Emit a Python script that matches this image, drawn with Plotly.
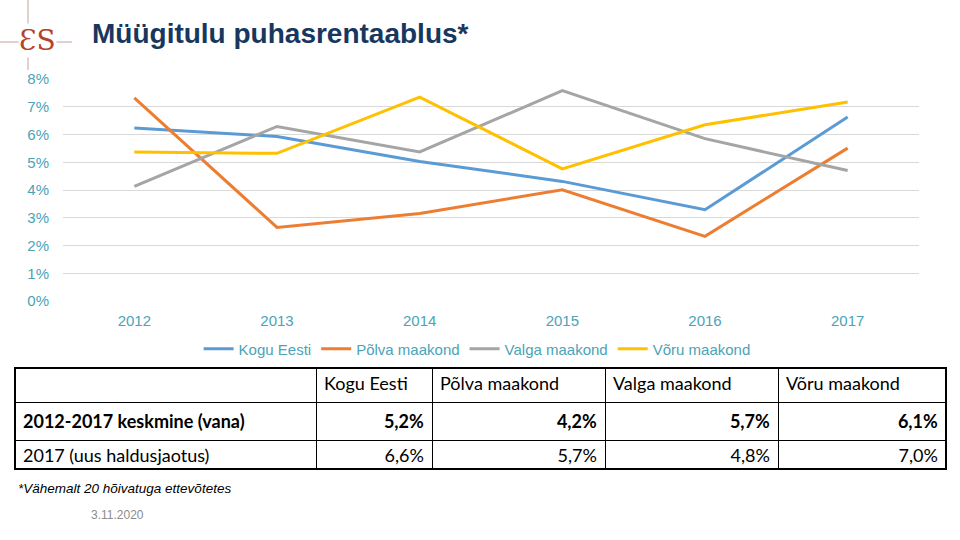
import plotly.graph_objects as go

years = ["2012", "2013", "2014", "2015", "2016", "2017"]
kogu_eesti = [6.23, 5.93, 5.03, 4.31, 3.29, 6.63]
polva = [7.32, 2.65, 3.15, 4.01, 2.33, 5.51]
valga = [4.13, 6.29, 5.37, 7.58, 5.85, 4.70]
voru = [5.37, 5.32, 7.35, 4.76, 6.35, 7.17]

series_names = ["Kogu Eesti", "Põlva maakond", "Valga maakond", "Võru maakond"]
series_colors = ["#5B9BD5", "#ED7D31", "#A5A5A5", "#FFC000"]

y_ticks = [0, 1, 2, 3, 4, 5, 6, 7, 8]
y_ticklabels = [f"{v}%" for v in y_ticks]

table_header = ["", "Kogu Eesti", "Põlva maakond", "Valga maakond", "Võru maakond"]
row_labels = ["2012-2017 keskmine (vana)", "2017 (uus haldusjaotus)"]
avg_old = ["5,2%", "4,2%", "5,7%", "6,1%"]
new_2017 = ["6,6%", "5,7%", "4,8%", "7,0%"]

W, H = 960, 540
def px_x(x):
    return x / W
def px_y(y):
    return 1 - y / H

tick_color = "#4BA3B8"

fig = go.Figure()
for name, vals, col in zip(series_names, [kogu_eesti, polva, valga, voru], series_colors):
    fig.add_trace(go.Scatter(x=years, y=vals, name=name, mode="lines",
                             line=dict(color=col, width=3)))

# table
cols = [[f"<b>{row_labels[0]}</b>", row_labels[1]]]
for a, b in zip(avg_old, new_2017):
    cols.append([f"<b>{a}</b>", b])
fig.add_trace(go.Table(
    domain=dict(x=[px_x(15), px_x(946)], y=[px_y(470), px_y(368)]),
    columnwidth=[301, 116, 173, 173, 168],
    header=dict(values=table_header, align="left", height=34,
                line=dict(color="black", width=1), fill=dict(color="white"),
                font=dict(family="Lato", size=18, color="black")),
    cells=dict(values=cols, align=["left", "right", "right", "right", "right"], height=33,
               line=dict(color="black", width=1), fill=dict(color="white"),
               font=dict(family="Lato", size=18, color="black")),
))

fig.update_layout(
    width=W, height=H,
    margin=dict(l=0, r=0, t=0, b=0, autoexpand=False),
    paper_bgcolor="white", plot_bgcolor="white",
    font=dict(family="Arial", color=tick_color),
    xaxis=dict(domain=[px_x(63), px_x(919)], type="category", range=[-0.5, 5.5],
               showgrid=False, showline=False, zeroline=False, ticks="",
               ticklabelstandoff=9, automargin=False,
               tickfont=dict(size=15, color=tick_color), anchor="y"),
    yaxis=dict(domain=[px_y(301), px_y(79)], range=[0, 8], tickvals=y_ticks,
               ticktext=y_ticklabels, showgrid=True, gridcolor="#D9D9D9", gridwidth=1,
               zeroline=False, showline=False, ticks="", ticklabelstandoff=13, automargin=False,
               tickfont=dict(size=15, color=tick_color), anchor="x"),
    legend=dict(orientation="h", x=0.497, xanchor="center", y=px_y(349), yanchor="middle",
                font=dict(size=15, color=tick_color), itemwidth=30, bgcolor="rgba(0,0,0,0)"),
    showlegend=True,
)

# title and logo
fig.add_annotation(text="<b>Müügitulu puhasrentaablus*</b>", x=px_x(90), y=px_y(33),
                   xref="paper", yref="paper", xanchor="left", yanchor="middle",
                   showarrow=False, font=dict(family="Arial", size=28, color="#17375E"))
fig.add_shape(type="line", xref="paper", yref="paper", x0=px_x(28), x1=px_x(28),
              y0=px_y(0), y1=px_y(70), line=dict(color="#C4A49A", width=1))
fig.add_shape(type="line", xref="paper", yref="paper", x0=px_x(0), x1=px_x(72),
              y0=px_y(42), y1=px_y(42), line=dict(color="#C4A49A", width=1))
fig.add_annotation(text="ƐS", x=px_x(37), y=px_y(40), xref="paper", yref="paper",
                   xanchor="center", yanchor="middle", showarrow=False,
                   bgcolor="white", borderpad=0,
                   font=dict(family="DejaVu Serif", size=28, color="#B5432A"))

# table outer border
fig.add_shape(type="rect", xref="paper", yref="paper", x0=px_x(15), x1=px_x(946),
              y0=px_y(469), y1=px_y(368), line=dict(color="black", width=2))

fig.add_annotation(text="<i>*Vähemalt 20 hõivatuga ettevõtetes</i>", x=px_x(16), y=px_y(488),
                   xref="paper", yref="paper", xanchor="left", yanchor="middle",
                   showarrow=False, font=dict(family="Arial", size=13.5, color="black"))
fig.add_annotation(text="3.11.2020", x=px_x(117), y=px_y(515), xref="paper", yref="paper",
                   xanchor="center", yanchor="middle", showarrow=False,
                   font=dict(family="Arial", size=12, color="#8C8C8C"))

fig.write_html("out.html", config={"displayModeBar": False},
               post_script="document.body.style.margin='0';")
